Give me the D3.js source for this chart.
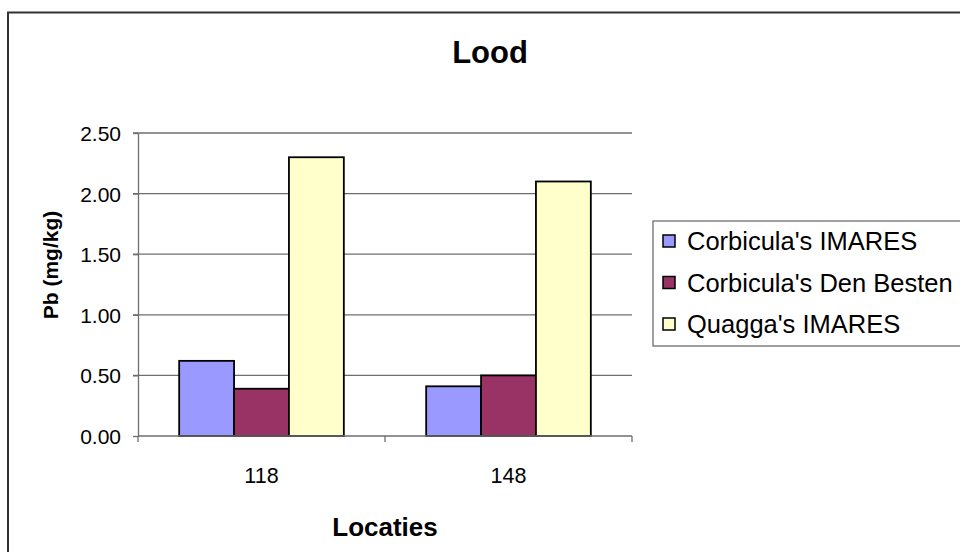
<!doctype html>
<html lang="nl">
<head>
<meta charset="utf-8">
<script src="https://d3js.org/d3.v7.min.js"></script>
<style>
  body { margin: 0; background: #fff; }
  svg text { font-family: "Liberation Sans", Arial, sans-serif; fill: #000; }
</style>
</head>
<body>
<script>
// data
var locaties = ["118", "148"];
var reeksen = ["Corbicula's IMARES", "Corbicula's Den Besten", "Quagga's IMARES"];
var corbImares = [0.62, 0.41];
var corbDenBesten = [0.39, 0.50];
var quaggaImares = [2.30, 2.10];
var yTicks = [0, 0.5, 1, 1.5, 2, 2.5];
var kleuren = ["#9999ff", "#993366", "#ffffcc"];

var waarden = [corbImares, corbDenBesten, quaggaImares];

var w = 960, h = 552;
var mLeft = 138, mRight = 632, mTop = 133, mBottom = 436;

var svg = d3.select("body").append("svg")
  .attr("width", w)
  .attr("height", h);

// chart border
svg.append("rect")
  .attr("x", 8).attr("y", 12.5)
  .attr("width", 980).attr("height", 600)
  .attr("fill", "#fff")
  .attr("stroke", "#333").attr("stroke-width", 2);

var x0 = d3.scaleBand().domain(locaties).range([mLeft, mRight])
  .paddingInner(1 / 3).paddingOuter(1 / 6);
var x1 = d3.scaleBand().domain(reeksen).range([0, x0.bandwidth()]);
var y = d3.scaleLinear().domain([0, 2.5]).range([mBottom, mTop]);

// gridlines
svg.append("g").selectAll("line")
  .data(yTicks.slice(1))
  .enter().append("line")
  .attr("x1", mLeft - 5).attr("x2", mRight)
  .attr("y1", function(d){ return y(d); })
  .attr("y2", function(d){ return y(d); })
  .attr("stroke", "#6e6e6e").attr("stroke-width", 1.3);

// bars
var groups = svg.append("g").selectAll("g")
  .data(locaties)
  .enter().append("g")
  .attr("transform", function(d){ return "translate(" + x0(d) + ",0)"; });

groups.selectAll("rect")
  .data(function(d, i){
    return reeksen.map(function(s, j){ return { s: s, v: waarden[j][i], k: kleuren[j] }; });
  })
  .enter().append("rect")
  .attr("x", function(d){ return x1(d.s); })
  .attr("width", x1.bandwidth())
  .attr("y", function(d){ return y(d.v); })
  .attr("height", function(d){ return mBottom - y(d.v); })
  .attr("fill", function(d){ return d.k; })
  .attr("stroke", "#000").attr("stroke-width", 1.8);

// y axis
var yAxis = svg.append("g")
  .attr("transform", "translate(" + mLeft + ",0)")
  .call(d3.axisLeft(y).tickValues(yTicks).tickFormat(d3.format(".2f")).tickSizeInner(5).tickSizeOuter(0).tickPadding(12));
yAxis.select(".domain").attr("stroke", "#6e6e6e").attr("stroke-width", 1.3);
yAxis.selectAll(".tick line").attr("stroke", "#6e6e6e").attr("stroke-width", 1.3);
yAxis.selectAll("text").style("font-size", "21px").attr("dy", "0.36em");

// x axis: line with ticks at category edges
svg.append("line")
  .attr("x1", mLeft).attr("x2", mRight)
  .attr("y1", mBottom).attr("y2", mBottom)
  .attr("stroke", "#6e6e6e").attr("stroke-width", 1.3);
var grenzen = [mLeft].concat(locaties.map(function(d){ return x0(d) + x0.bandwidth() + x0.step() * x0.paddingInner() / 2; }));
svg.append("g").selectAll("line")
  .data(grenzen)
  .enter().append("line")
  .attr("x1", function(d){ return d; }).attr("x2", function(d){ return d; })
  .attr("y1", mBottom).attr("y2", mBottom + 6)
  .attr("stroke", "#6e6e6e").attr("stroke-width", 1.3);

svg.append("g").selectAll("text")
  .data(locaties)
  .enter().append("text")
  .attr("x", function(d){ return x0(d) + x0.bandwidth() / 2; })
  .attr("y", 483)
  .attr("text-anchor", "middle")
  .style("font-size", "21.5px")
  .text(function(d){ return d; });

// titles
svg.append("text")
  .attr("x", 490).attr("y", 63)
  .attr("text-anchor", "middle")
  .style("font-size", "31px").style("font-weight", "bold")
  .text("Lood");

svg.append("text")
  .attr("x", (mLeft + mRight) / 2).attr("y", 536)
  .attr("text-anchor", "middle")
  .style("font-size", "26px").style("font-weight", "bold")
  .text("Locaties");

svg.append("text")
  .attr("transform", "translate(58,265) rotate(-90)")
  .attr("text-anchor", "middle")
  .style("font-size", "21px").style("font-weight", "bold")
  .text("Pb (mg/kg)");

// legend
var legend = svg.append("g").attr("transform", "translate(653,221)");
legend.append("rect")
  .attr("x", 0).attr("y", 0)
  .attr("width", 340).attr("height", 125)
  .attr("fill", "#fff")
  .attr("stroke", "#6e6e6e").attr("stroke-width", 1.3);

var items = legend.selectAll("g.item")
  .data(reeksen)
  .enter().append("g")
  .attr("class", "item")
  .attr("transform", function(d, i){ return "translate(0," + (20 + i * 41.5) + ")"; });
items.append("rect")
  .attr("x", 10).attr("y", -6)
  .attr("width", 12).attr("height", 12)
  .attr("fill", function(d, i){ return kleuren[i]; })
  .attr("stroke", "#000").attr("stroke-width", 1.5);
items.append("text")
  .attr("x", 34).attr("y", 0)
  .attr("dy", "0.36em")
  .style("font-size", "25.5px")
  .text(function(d){ return d; });
</script>
</body>
</html>
